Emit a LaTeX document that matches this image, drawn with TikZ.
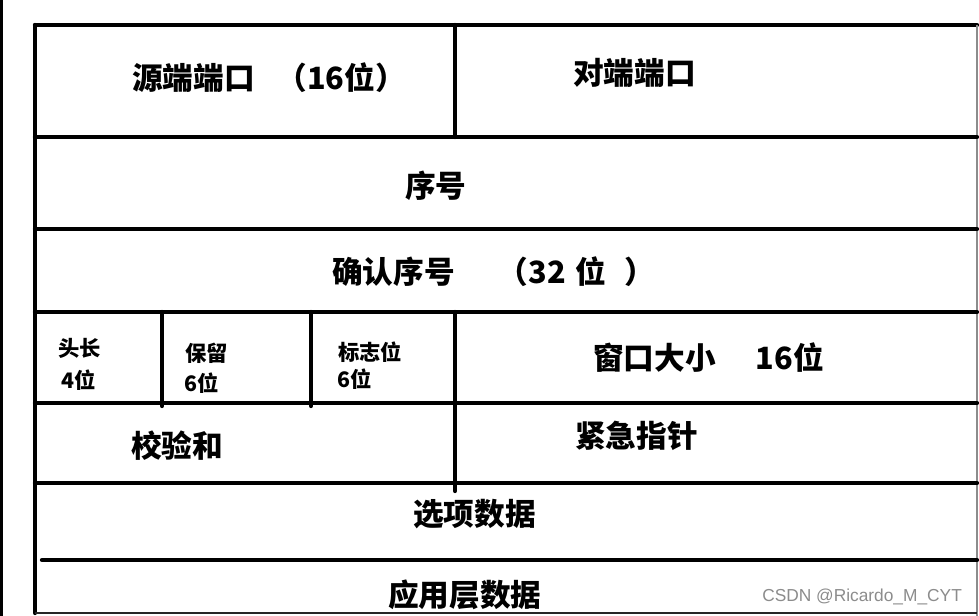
\documentclass[tikz,border=0pt]{standalone}
\usepackage{fontspec}
\newfontfamily\cjk{Noto Sans CJK SC}
\newfontfamily\wmfont{Liberation Sans}
\begin{document}
\begin{tikzpicture}[x=0.75pt,y=-0.75pt,
  rule/.style={line width=3.2pt, black, line cap=round},
  big/.style={font=\cjk\bfseries\fontsize{23}{25}\selectfont, inner sep=0pt, anchor=west},
  small/.style={font=\cjk\bfseries\fontsize{16}{18}\selectfont, inner sep=0pt, anchor=west}]
\useasboundingbox (0,0) rectangle (979,616);
\fill[white] (0,0) rectangle (979,616);
% screen edge strip
\coordinate (s1) at (1,0); \coordinate (s2) at (1,616);
\draw[line width=2.4pt] (s1) -- (s2);
% frame corners
\coordinate (TL) at (35,25); \coordinate (TR) at (977,25);
\coordinate (BL) at (35,613); \coordinate (BR) at (977,613);
\draw[rule] (TL) -- (TR);
\draw[rule] (TL) -- (BL);
\draw[line width=1.6pt, black!45] (TR) -- (977,616);
\draw[line width=1.6pt, black!85] (BL) -- (BR);
% horizontal rules
\foreach \n/\y in {a/137,b/229,c/312,d/403,e/483}{
  \coordinate (\n L) at (35,\y); \coordinate (\n R) at (977,\y);
  \draw[rule] (\n L) -- (\n R);
}
\coordinate (fL) at (42,560); \coordinate (fR) at (977,560);
\draw[rule] (fL) -- (fR);
% vertical rules
\coordinate (v1t) at (455,25); \coordinate (v1b) at (455,137);
\draw[rule] (v1t) -- (v1b);
\coordinate (v2t) at (162,312); \coordinate (v2b) at (162,406);
\draw[rule] (v2t) -- (v2b);
\coordinate (v3t) at (311,312); \coordinate (v3b) at (311,406);
\draw[rule] (v3t) -- (v3b);
\coordinate (v4t) at (455,312); \coordinate (v4b) at (455,491);
\draw[rule] (v4t) -- (v4b);
% texts
\node[big] (src) at (132,78) {源端端口\hspace{0.7em}（16位）};
\node[big] (dst) at (573,73) {对端端口};
\node[big] (seq) at (405,186) {序号};
\node[big] (ack) at (332,272) {确认序号\hspace{1.4em}（32\hspace{0.3em}位\hspace{0.6em}）};
\node[small] (hl1) at (58,348) {头长};
\node[small] (hl2) at (61,380) {4位};
\node[small] (rs1) at (185,353) {保留};
\node[small] (rs2) at (184,383) {6位};
\node[small] (fl1) at (338,352) {标志位};
\node[small] (fl2) at (337,379) {6位};
\node[big] (win) at (593,358) {窗口大小\hspace{1.3em}16位};
\node[big] (chk) at (131,446) {校验和};
\node[big] (urg) at (575,436) {紧急指针};
\node[big] (opt) at (413,514) {选项数据};
\node[big] (app) at (388,595) {应用层数据};
\node[font=\wmfont\fontsize{13}{15}\selectfont, text=black!45, inner sep=0pt, anchor=west] (wm) at (762,597) {CSDN @Ricardo\_M\_CYT};
\end{tikzpicture}
\end{document}
